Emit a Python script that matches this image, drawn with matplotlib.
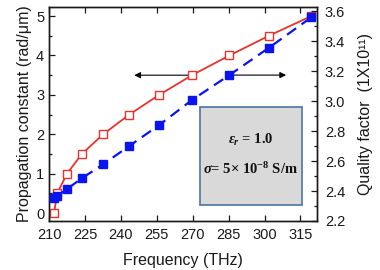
import matplotlib
matplotlib.use("Agg")
import matplotlib.pyplot as plt
from matplotlib.patches import Rectangle
from matplotlib.ticker import MultipleLocator

plt.rcParams['font.family'] = ['Liberation Sans', 'DejaVu Sans']
plt.rcParams['mathtext.fontset'] = 'custom'
plt.rcParams['mathtext.rm'] = 'Liberation Serif:bold'
plt.rcParams['mathtext.it'] = 'Liberation Serif:italic:bold'
plt.rcParams['mathtext.bf'] = 'Liberation Serif:bold'

# Data
freq = [212.1, 213.4, 217.5, 223.7, 232.6, 243.5, 256.0, 269.7, 285.3, 301.8, 319.5]
beta = [0.0, 0.5, 1.0, 1.5, 2.0, 2.5, 3.0, 3.5, 4.0, 4.5, 5.0]
quality = [2.355, 2.367, 2.413, 2.485, 2.578, 2.70, 2.84, 3.007, 3.173, 3.355, 3.558]
xticks = [210, 225, 240, 255, 270, 285, 300, 315]

txtc = '#1a1a1a'
red = '#e8332a'
blue = '#0a14f0'

fig = plt.figure(figsize=(3.8, 2.7), dpi=100)
ax = fig.add_axes([0.129, 0.1815, 0.704, 0.7925])
ax2 = ax.twinx()

ax.plot(freq, beta, color=red, lw=1.3, marker='s', ms=5.2, mfc='white', mec=red, mew=1.0, zorder=3)
ax2.plot(freq, quality, color=blue, lw=1.6, ls=(0, (5, 3)), marker='s', ms=5.2, mfc=blue, mec=blue, zorder=3)

ax.set_xlim(210, 321.7)
ax.set_ylim(-0.2, 5.23)
ax2.set_ylim(2.2, 3.627)

ax.set_xticks(xticks)
ax.yaxis.set_major_locator(MultipleLocator(1))
ax.yaxis.set_minor_locator(MultipleLocator(0.5))
ax2.yaxis.set_minor_locator(MultipleLocator(0.1))
ax2.set_yticks([2.2, 2.4, 2.6, 2.8, 3.0, 3.2, 3.4, 3.6])
ax2.set_yticklabels(['2.2', '2.4', '2.6', '2.8', '3.0', '3.2', '3.4', '3.6'])

ax.tick_params(axis='both', which='both', direction='in', labelsize=10.5, colors=txtc, width=0.9)
ax.tick_params(axis='x', top=True, length=4, pad=5)
ax.tick_params(axis='y', which='major', length=4)
ax.tick_params(axis='y', which='minor', length=2.5)
ax2.tick_params(axis='y', which='both', direction='in', labelsize=10.5, colors=txtc, width=0.9)
ax2.tick_params(axis='y', which='major', length=4, pad=6)
ax2.tick_params(axis='y', which='minor', length=2.5)
for a in (ax, ax2):
    for s in a.spines.values():
        s.set_linewidth(1.0)
        s.set_color(txtc)

ax.set_xlabel('Frequency (THz)', fontsize=11.5, color=txtc, labelpad=8)
ax.set_ylabel('Propagation constant (rad/\u03bcm)', fontsize=11.5, color=txtc, labelpad=3)
ax2.set_ylabel('Quality factor  (1X10\u00b9\u00b9)', fontsize=11.5, color=txtc, labelpad=9)

# arrows
ax.annotate('', xy=(245.6, 3.5), xytext=(269.7, 3.5),
            arrowprops=dict(arrowstyle='-|>', color='black', lw=0.8, mutation_scale=9, shrinkA=0, shrinkB=0), zorder=2)
ax2.annotate('', xy=(309.0, 3.173), xytext=(285.3, 3.173),
             arrowprops=dict(arrowstyle='-|>', color='black', lw=0.8, mutation_scale=9, shrinkA=0, shrinkB=0), zorder=2)

# info box
rect = Rectangle((0.564, 0.075), 0.380, 0.459, transform=ax2.transAxes,
                 facecolor='#d9d9d9', edgecolor='#5a7da6', lw=1.3, zorder=4)
ax2.add_patch(rect)
ax2.text(0.754, 0.38, r'$\varepsilon_r$ = 1.0', transform=ax2.transAxes, ha='center', va='center',
         fontsize=10.5, family='Liberation Serif', weight='bold', color='#111111', zorder=5)
ax2.text(0.754, 0.245, '$\\sigma$= 5\u00d7 10$^{-8}$ S/m', transform=ax2.transAxes, ha='center', va='center',
         fontsize=10.5, family='Liberation Serif', weight='bold', color='#111111', zorder=5)

fig.savefig('out.png', dpi=100)
